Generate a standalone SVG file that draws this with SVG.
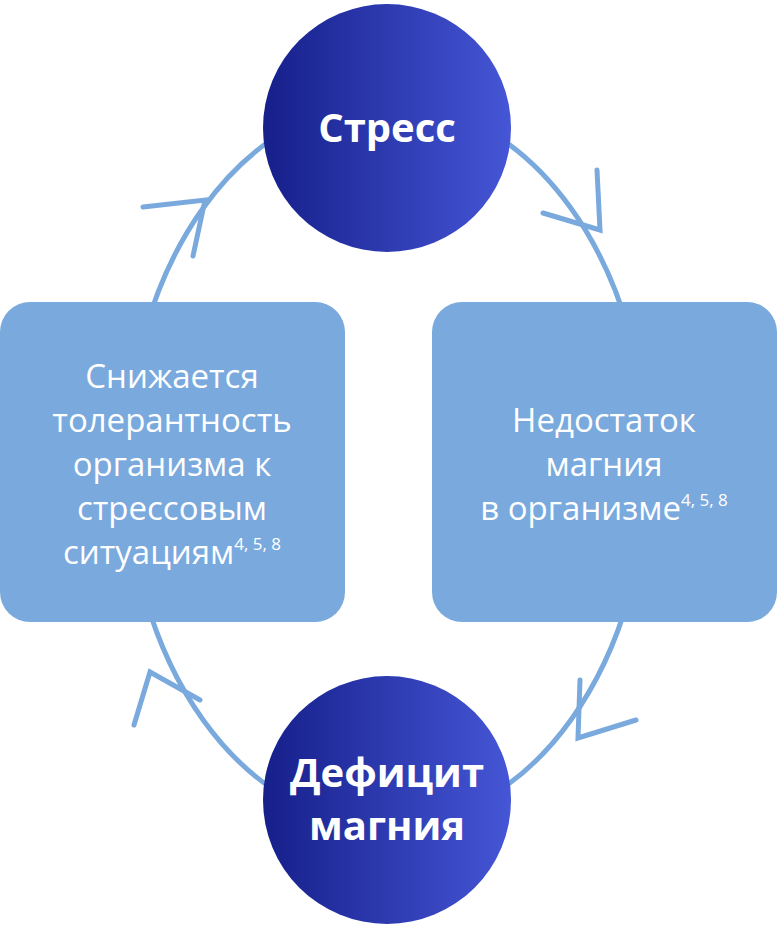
<svg xmlns="http://www.w3.org/2000/svg" width="777" height="927" viewBox="0 0 777 927">
<defs>
<linearGradient id="g" x1="0" y1="0" x2="1" y2="0"><stop offset="0" stop-color="#161f8a"/><stop offset="1" stop-color="#4556d6"/></linearGradient>
<style>
.c{fill:none;stroke:#7aa9dd;stroke-width:5;stroke-linecap:round}
.box{fill:#7aa9dd}
.t{fill:#fff;font-family:"Open Sans","Liberation Sans",sans-serif;font-size:33px;text-anchor:middle}
.b{fill:#fff;font-family:"Open Sans","Liberation Sans",sans-serif;font-size:40px;font-weight:bold;text-anchor:middle}
.s{font-size:17px}
</style>
</defs>
<g id="connectors">
<ellipse class="c" cx="387" cy="464" rx="260" ry="362"/>
<polyline class="c" points="143,207 205,200 193,256"/>
<polyline class="c" points="597,170 600,230 543,213"/>
<polyline class="c" points="580,680 578,738 636,720"/>
<polyline class="c" points="200,700 150,672 134,725"/>
</g>
<g id="stress"><circle cx="387" cy="128" r="124" fill="url(#g)"/><text class="b" x="387" y="142">Стресс</text></g>
<g id="deficit"><circle cx="387" cy="800" r="124" fill="url(#g)"/><text class="b" x="387" y="787">Дефицит</text><text class="b" x="387" y="840">магния</text></g>
<g id="left"><rect class="box" x="0" y="302" width="345" height="320" rx="30"/>
<text class="t" x="172" y="388">Снижается</text>
<text class="t" x="172" y="432">толерантность</text>
<text class="t" x="172" y="476">организма к</text>
<text class="t" x="172" y="520">стрессовым</text>
<text class="t" x="172" y="564">ситуациям<tspan class="s" dy="-14">4, 5, 8</tspan></text></g>
<g id="right"><rect class="box" x="432" y="302" width="345" height="320" rx="30"/>
<text class="t" x="604" y="432">Недостаток</text>
<text class="t" x="604" y="476">магния</text>
<text class="t" x="604" y="520">в организме<tspan class="s" dy="-14">4, 5, 8</tspan></text></g>
</svg>
